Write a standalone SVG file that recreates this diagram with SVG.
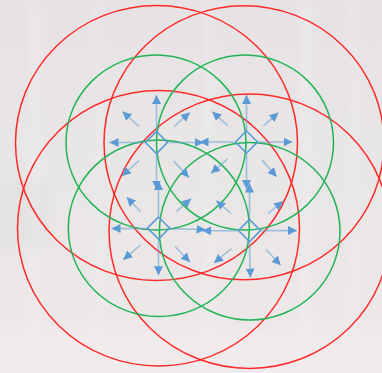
<svg xmlns="http://www.w3.org/2000/svg" width="382" height="373" viewBox="0 0 382 373">
  <defs>
    <linearGradient id="bg" x1="0" y1="0" x2="0" y2="1">
      <stop offset="0" stop-color="#e7e3e5"/>
      <stop offset="0.5" stop-color="#e9e6e6"/>
      <stop offset="1" stop-color="#efe9e9"/>
    </linearGradient>
    <filter id="blur" x="-10%" y="-10%" width="120%" height="120%">
      <feGaussianBlur stdDeviation="4"/>
    </filter>
    <marker id="ah" markerUnits="userSpaceOnUse" markerWidth="10" markerHeight="10" refX="9" refY="4.5" orient="auto">
      <path d="M0,0 L9,4.5 L0,9 z" fill="#5b9bd5"/>
    </marker>
    <style>
      .red { fill: none; stroke: #ff2a2a; stroke-width: 1.5; }
      .green { fill: none; stroke: #22b356; stroke-width: 1.5; }
      .arr { stroke: #5b9bd5; stroke-opacity: 0.55; stroke-width: 1.6; fill: none; marker-end: url(#ah); }
      .dia { fill: none; stroke: #5b9bd5; stroke-width: 1.6; }
      .stripe { fill: #ffffff; opacity: 0.18; }
    </style>
  </defs>

  <rect width="382" height="373" fill="url(#bg)"/>
  <g id="background-texture" filter="url(#blur)">
    <rect class="stripe" x="30" y="0" width="10" height="373"/>
    <rect class="stripe" x="95" y="0" width="6" height="373"/>
    <rect class="stripe" x="205" y="0" width="8" height="373"/>
    <rect class="stripe" x="300" y="0" width="12" height="373"/>
    <rect class="stripe" x="350" y="0" width="7" height="373"/>
    <rect x="-10" y="180" width="60" height="70" fill="#d8d8d6" opacity="0.25"/>
    <rect x="-10" y="330" width="400" height="53" fill="#f3eeee" opacity="0.5"/>
  </g>

  <g id="circles">
    <ellipse id="red-a" class="red" cx="156.5" cy="143" rx="141" ry="137.5"/>
    <ellipse id="red-b" class="red" cx="244" cy="142.8" rx="140" ry="137"/>
    <ellipse id="red-c" class="red" cx="158.5" cy="228.3" rx="141" ry="137.7"/>
    <ellipse id="red-d" class="red" cx="249.5" cy="231.2" rx="140.5" ry="137.2"/>
    <ellipse id="green-a" class="green" cx="156" cy="142.5" rx="90" ry="87.5"/>
    <ellipse id="green-b" class="green" cx="245" cy="142.5" rx="88.5" ry="87.5"/>
    <ellipse id="green-c" class="green" cx="158.8" cy="228.3" rx="90.5" ry="88.3"/>
    <ellipse id="green-d" class="green" cx="249.7" cy="231.3" rx="90.3" ry="88.7"/>
  </g>

  <g id="connectors">
    <!-- node A -->
    <line class="arr" x1="156.5" y1="130.5" x2="156.5" y2="95"/>
    <line class="arr" x1="156.5" y1="154.5" x2="156.5" y2="189.5"/>
    <line class="arr" x1="144.5" y1="142.5" x2="109.5" y2="142.5"/>
    <line class="arr" x1="168.5" y1="142.5" x2="203.5" y2="142.5"/>
    <line class="arr" x1="139" y1="126.5" x2="122.5" y2="111.5"/>
    <line class="arr" x1="174" y1="126.5" x2="190" y2="112.5"/>
    <line class="arr" x1="139" y1="160.5" x2="122" y2="176"/>
    <line class="arr" x1="173.5" y1="161" x2="189" y2="177.5"/>
    <!-- node B -->
    <line class="arr" x1="246.5" y1="130" x2="246.5" y2="95"/>
    <line class="arr" x1="246.5" y1="154" x2="246.5" y2="189"/>
    <line class="arr" x1="234.5" y1="142" x2="199.5" y2="142"/>
    <line class="arr" x1="258.5" y1="142" x2="292.5" y2="142"/>
    <line class="arr" x1="228" y1="126" x2="212.3" y2="111.7"/>
    <line class="arr" x1="263.3" y1="126" x2="278.3" y2="112.7"/>
    <line class="arr" x1="227.5" y1="159" x2="211" y2="173.3"/>
    <line class="arr" x1="262" y1="160" x2="276.7" y2="176.7"/>
    <!-- node C -->
    <line class="arr" x1="158.5" y1="216" x2="158.5" y2="181"/>
    <line class="arr" x1="158.5" y1="240" x2="158.5" y2="275.3"/>
    <line class="arr" x1="146.5" y1="228.5" x2="111.5" y2="228.5"/>
    <line class="arr" x1="170.5" y1="228.8" x2="205.5" y2="229.5"/>
    <line class="arr" x1="140.5" y1="211.5" x2="126.7" y2="197.3"/>
    <line class="arr" x1="176.5" y1="211.5" x2="191" y2="198.7"/>
    <line class="arr" x1="140.5" y1="245" x2="123.3" y2="259.7"/>
    <line class="arr" x1="175" y1="246.5" x2="190" y2="262"/>
    <!-- node D -->
    <line class="arr" x1="249.5" y1="218.5" x2="249.5" y2="183.5"/>
    <line class="arr" x1="249.5" y1="242.5" x2="250.3" y2="277.5"/>
    <line class="arr" x1="237.5" y1="230.8" x2="202.3" y2="230.8"/>
    <line class="arr" x1="261.5" y1="230.6" x2="297" y2="230.6"/>
    <line class="arr" x1="231" y1="213.5" x2="216.3" y2="200.7"/>
    <line class="arr" x1="268" y1="213.5" x2="283" y2="201.3"/>
    <line class="arr" x1="231.5" y1="248.5" x2="214" y2="263"/>
    <line class="arr" x1="266" y1="249.5" x2="280.7" y2="265.3"/>
  </g>

  <g id="node-a"><polygon class="dia" points="156.5,131.5 167.5,142.5 156.5,153.5 145.5,142.5"/></g>
  <g id="node-b"><polygon class="dia" points="246.5,131 257.5,142 246.5,153 235.5,142"/></g>
  <g id="node-c"><polygon class="dia" points="158.5,217 169.5,228 158.5,239 147.5,228"/></g>
  <g id="node-d"><polygon class="dia" points="249.5,219.5 260.5,230.5 249.5,241.5 238.5,230.5"/></g>
</svg>
